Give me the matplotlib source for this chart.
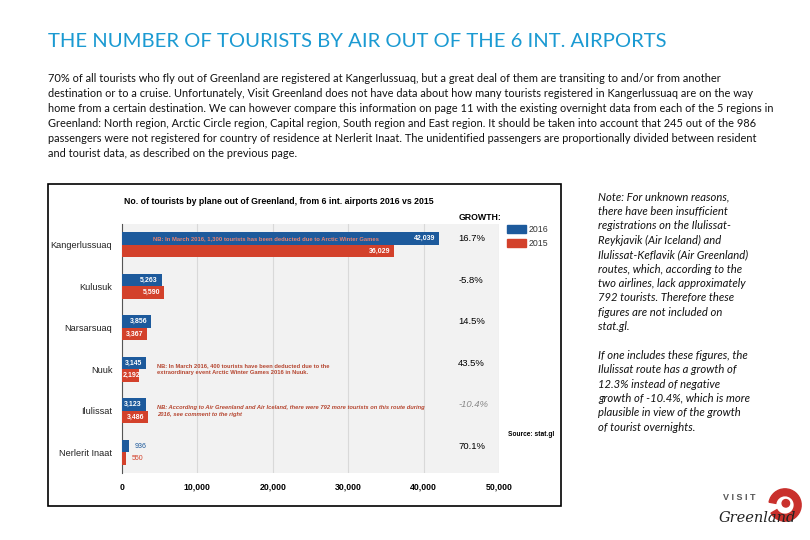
import matplotlib
matplotlib.use("Agg")
from matplotlib import pyplot as plt
from matplotlib.patches import Rectangle, Wedge, Circle

# data
airports = ["Kangerlussuaq", "Kulusuk", "Narsarsuaq", "Nuuk", "Ilulissat", "Nerlerit Inaat"]
tourists_2016 = [42039, 5263, 3856, 3145, 3123, 936]
tourists_2015 = [36029, 5590, 3367, 2192, 3486, 550]
growth = ["16.7%", "-5.8%", "14.5%", "43.5%", "-10.4%", "70.1%"]
x_ticks = [0, 10000, 20000, 30000, 40000, 50000]

title = "THE NUMBER OF TOURISTS BY AIR OUT OF THE 6 INT. AIRPORTS"
paragraph = [
    "70% of all tourists who fly out of Greenland are registered at Kangerlussuaq, but a great deal of them are transiting to and/or from another",
    "destination or to a cruise. Unfortunately, Visit Greenland does not have data about how many tourists registered in Kangerlussuaq are on the way",
    "home from a certain destination. We can however compare this information on page 11 with the existing overnight data from each of the 5 regions in",
    "Greenland: North region, Arctic Circle region, Capital region, South region and East region. It should be taken into account that 245 out of the 986",
    "passengers were not registered for country of residence at Nerlerit Inaat. The unidentified passengers are proportionally divided between resident",
    "and tourist data, as described on the previous page.",
]
note_lines = [
    "Note: For unknown reasons,", "there have been insufficient", "registrations on the Ilulissat-",
    "Reykjavik (Air Iceland) and", "Ilulissat-Keflavik (Air Greenland)", "routes, which, according to the",
    "two airlines, lack approximately", "792 tourists. Therefore these", "figures are not included on",
    "stat.gl.", "",
    "If one includes these figures, the", "Ilulissat route has a growth of", "12.3% instead of negative",
    "growth of -10.4%, which is more", "plausible in view of the growth", "of tourist overnights.",
]

W, H = 810, 540
BLUE = "#1d5a9c"
RED = "#d3412b"
NOTE_RED = "#b5452f"


def fx(x):
    return x / W


def fy(y):
    return 1 - y / H


fig = plt.figure(figsize=(8.1, 5.4), dpi=100)
fig.patch.set_facecolor("white")

# slide heading and text
fig.text(fx(48), fy(42), title, color="#1b9ad2", fontsize=14.6, family="Lato", va="center")
for i, line in enumerate(paragraph):
    fig.text(fx(48), fy(79 + i * 14.9), line, fontsize=7.9, family="Lato", va="center", color="#111111")
for i, line in enumerate(note_lines):
    fig.text(fx(598), fy(197 + i * 14.4), line, fontsize=8.1, family="Lato", style="italic",
             va="center", color="#111111")

# frame around the embedded chart
fig.add_artist(Rectangle((fx(48), fy(506)), fx(561 - 48), (506 - 184) / H,
                         transform=fig.transFigure, fill=False, edgecolor="black", lw=1.2))
fig.text(fx(124), fy(202), "No. of tourists by plane out of Greenland, from 6 int. airports 2016 vs 2015",
         fontsize=6.3, weight="bold", family="Liberation Sans", va="center")

ax = fig.add_axes([fx(122), fy(473), fx(499 - 122), (473 - 224) / H])
ax.set_facecolor("#f2f2f2")
y = list(range(len(airports)))
bh = 0.3
ax.barh([v - bh / 2 for v in y], tourists_2016, height=bh, color=BLUE, label="2016", zorder=3)
ax.barh([v + bh / 2 for v in y], tourists_2015, height=bh, color=RED, label="2015", zorder=3)
ax.set_xlim(0, 50000)
ax.set_ylim(5.5, -0.5)
ax.set_xticks(x_ticks)
ax.set_xticklabels([f"{t:,}" for t in x_ticks], fontsize=6.3, weight="bold", family="Liberation Sans")
ax.set_yticks(y)
ax.set_yticklabels(airports, fontsize=6.6, family="Liberation Sans", color="#222222")
ax.tick_params(length=0, pad=7)
ax.tick_params(axis="x", pad=7)
ax.grid(axis="x", color="#d9d9d9", lw=0.8, zorder=1)
for s in ["top", "right", "bottom"]:
    ax.spines[s].set_visible(False)
ax.spines["left"].set_color("#555555")

# value labels
for i in y:
    for val, off, col in [(tourists_2016[i], -bh / 2, BLUE), (tourists_2015[i], bh / 2, RED)]:
        if val > 2600:
            ax.text(val - 500, i + off, f"{val:,}", ha="right", va="center", color="white",
                    fontsize=5, weight="bold", family="Liberation Sans", zorder=4)
        elif val > 1500:
            ax.text(150, i + off, f"{val:,}", ha="left", va="center", color="white",
                    fontsize=5, weight="bold", family="Liberation Sans", zorder=4)
        else:
            ax.text(val + 800, i + off, f"{val:,}", ha="left", va="center", color=col,
                    fontsize=5, family="Liberation Sans", zorder=4)

ax.text(4100, -bh / 2, "NB: In March 2016, 1,300 tourists has been deducted due to Arctic Winter Games",
        color="#e8826f", fontsize=4.2, weight="bold", va="center", family="Liberation Sans", zorder=4)
ax.text(4650, 3, "NB: In March 2016, 400 tourists have been deducted due to the\n"
        "extraordinary event Arctic Winter Games 2016 in Nuuk.",
        color=NOTE_RED, fontsize=4.15, weight="bold", va="center", family="Liberation Sans",
        linespacing=1.6, zorder=4)
ax.text(4650, 4, "NB: According to Air Greenland and Air Iceland, there were 792 more tourists on this route during\n"
        "2016, see comment to the right",
        color=NOTE_RED, fontsize=4.15, weight="bold", style="italic", va="center",
        family="Liberation Sans", linespacing=1.6, zorder=4)

# growth column
ax.text(44600, -0.65, "GROWTH:", fontsize=6.3, weight="bold", va="center", family="Liberation Sans")
for i, g in enumerate(growth):
    if g.startswith("-10"):
        ax.text(44600, i - 0.15, g, fontsize=6.8, style="italic", color="#888888", va="center",
                family="Liberation Sans")
    else:
        ax.text(44600, i - 0.15, g, fontsize=6.8, va="center", family="Liberation Sans")

# legend
for k, (lab, col) in enumerate([("2016", BLUE), ("2015", RED)]):
    yy = 229 + k * 14.5
    fig.add_artist(Rectangle((fx(507), fy(yy + 4)), fx(19), 8 / H, transform=fig.transFigure,
                             color=col))
    fig.text(fx(529), fy(yy), lab, fontsize=6.3, va="center", family="Liberation Sans", color="#333333")
fig.text(fx(508), fy(434), "Source: stat.gl", fontsize=4.8, weight="bold", va="center",
         family="Liberation Sans")

# Visit Greenland logo
lax = fig.add_axes([fx(768), fy(522), fx(34), 34 / H])
lax.set_xlim(-1, 1)
lax.set_ylim(-1, 1)
lax.set_aspect("equal")
lax.axis("off")
lax.add_patch(Wedge((0, 0), 0.95, -150, 170, width=0.4, color="#c9302c"))
lax.add_patch(Circle((0.05, 0.1), 0.22, color="#c9302c"))
fig.text(fx(723), fy(498), "V I S I T", fontsize=6.5, weight="bold", color="#555555", va="center",
         family="Liberation Sans")
fig.text(fx(719), fy(518), "Greenland", fontsize=10.5, style="italic", color="#222222", va="center",
         family="DejaVu Serif")

fig.savefig("out.png", dpi=100)
